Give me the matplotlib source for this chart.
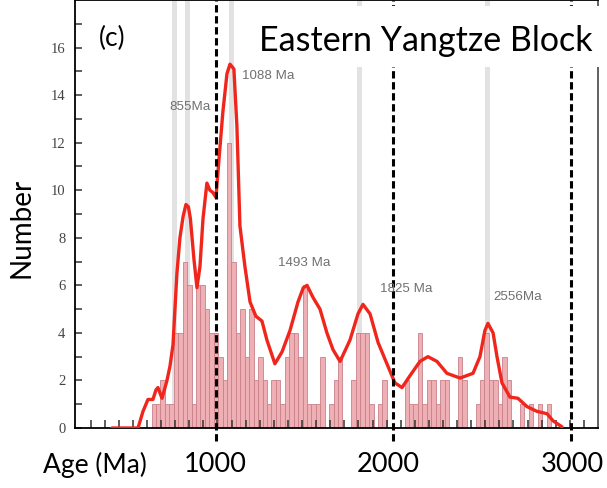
import numpy as np
import matplotlib
matplotlib.use("Agg")
from matplotlib import pyplot as plt
from matplotlib.patches import Rectangle

# histogram: 25 Ma bins (centres) and counts
bin_centres = np.arange(650, 2900, 25)
counts = [1, 1, 2, 1, 1, 4, 4, 7, 6, 1,
          6, 6, 5, 4, 4, 3, 2, 12, 7, 4,
          5, 3, 5, 2, 3, 2, 1, 2, 2, 1,
          3, 4, 4, 3, 6, 1, 1, 1, 3, 0,
          1, 2, 3, 0, 0, 2, 4, 4, 4, 1,
          0, 1, 2, 0, 0, 0, 0, 2, 1, 1,
          4, 1, 2, 2, 1, 2, 2, 0, 0, 3,
          2, 0, 0, 1, 2, 4, 2, 2, 1, 3,
          2, 0, 0, 1, 0, 1, 0, 1, 0, 1]

# probability density curve (age in Ma, scaled to number)
curve_age = [414, 561, 589, 617, 645, 662, 673, 696, 713, 724,
             741, 758, 780, 797, 815, 831, 845, 856, 876, 893, 910, 927,
             949, 966, 983, 1000, 1017, 1039, 1062, 1079, 1101, 1118,
             1135, 1163, 1192, 1225, 1259, 1287, 1332, 1372, 1417, 1462,
             1492, 1513, 1546, 1586, 1625, 1659, 1699, 1755, 1800, 1828, 1868,
             1913, 1963, 2008, 2048, 2093, 2149, 2194, 2245, 2301, 2375,
             2448, 2487, 2515, 2532, 2561, 2583, 2611, 2656, 2701, 2752,
             2808, 2865, 2899, 2949]
curve_val = [0, 0, 0.7, 1.2, 1.2, 1.6, 1.7, 1.25, 1.7, 2.0,
             2.6, 3.5, 6.5, 8.0, 8.9, 9.4, 9.3, 8.8, 7.1, 5.9, 6.8, 8.8,
             10.3, 10.0, 9.9, 9.7, 11.3, 13.3, 14.9, 15.3, 15.1, 12.7,
             8.5, 6.8, 5.3, 4.7, 4.5, 3.7, 2.7, 3.2, 4.1, 5.3,
             5.9, 6.0, 5.5, 5.0, 4.0, 3.3, 2.8, 3.7, 4.8, 5.2, 4.8,
             3.6, 2.7, 1.9, 1.7, 2.2, 2.8, 3.0, 2.8, 2.3, 2.1,
             2.3, 3.0, 4.1, 4.4, 4.0, 3.0, 1.9, 1.3, 1.25, 0.9,
             0.7, 0.6, 0.3, 0.05]

# grey bands marking peaks
band_age = [769, 842, 1085, 1811, 2527]

# peak labels
peak_text = ["855Ma", "1088 Ma", "1493 Ma", "1825 Ma", "2556Ma"]
peak_x = [735, 1146, 1349, 1924, 2560]
peak_y = [13.5, 14.8, 6.95, 5.85, 5.5]

# boundaries (dashed)
bounds = [1000, 2000, 3000]

fig = plt.figure(figsize=(6.07, 4.88), dpi=100)
ax = fig.add_axes([75 / 607, 60 / 488, 523 / 607, 428 / 488])

for a in band_age:
    ax.axvspan(a - 14, a + 14, color="#e2e2e2", lw=0, zorder=0)

ax.bar(bin_centres, counts, width=25, color="#eeb0b5", edgecolor="#c98189",
       linewidth=0.6, zorder=1)

ax.plot(curve_age, curve_val, color="#f0261c", lw=2.4, zorder=3,
        solid_joinstyle="round", solid_capstyle="round")

ax.vlines(bounds, -0.55, 18, colors="black", lw=2.2,
          linestyles=(0, (2.4, 1.2)), clip_on=False, zorder=4)

for t, x, y in zip(peak_text, peak_x, peak_y):
    ax.text(x, y, t, fontsize=9.6, color="#707070", family="Liberation Sans",
            ha="left", va="center", zorder=5)

# white box behind the title
ax.add_patch(Rectangle((0.335, 0.843), 0.68, 0.143, transform=ax.transAxes,
                       facecolor="white", edgecolor="none", clip_on=False,
                       zorder=6))
ax.text(0.99, 0.905, "Eastern Yangtze Block", transform=ax.transAxes,
        fontsize=24.5, family="Lato", ha="right", va="center", zorder=7)
ax.text(0.046, 0.91, "(c)", transform=ax.transAxes, fontsize=19,
        family="Lato", ha="left", va="center", zorder=7)

ax.set_xlim(206, 3152)
ax.set_ylim(0, 18)

ax.set_yticks(np.arange(0, 17, 2))
ax.set_yticks(np.arange(1, 18, 2), minor=True)
ax.set_yticklabels([str(v) for v in range(0, 17, 2)], family="Liberation Serif",
                   fontsize=10.5, color="#444444")
ax.set_xticks(np.arange(294, 3100, 79.4))
ax.set_xticklabels([])
ax.tick_params(axis="both", which="both", direction="in", length=5,
               width=1.1, color="#333333")
ax.tick_params(axis="y", pad=7)
ax.tick_params(axis="x", length=6)

for s in ["left", "bottom", "top"]:
    ax.spines[s].set_color("black")
    ax.spines[s].set_linewidth(1.3)
ax.spines["right"].set_color("#555555")
ax.spines["right"].set_linewidth(1.3)

fig.text(22 / 607, 1 - 228 / 488, "Number", rotation=90, fontsize=20,
         family="Lato", ha="center", va="center")
fig.text(95 / 607, 1 - 465 / 488, "Age (Ma)", fontsize=19, family="Lato",
         ha="center", va="center")
for b, px in zip(bounds, [215, 388, 572]):
    fig.text(px / 607, 1 - 465 / 488, str(b), fontsize=19.5, family="Lato",
             ha="center", va="center")

fig.savefig("out.png", dpi=100)
